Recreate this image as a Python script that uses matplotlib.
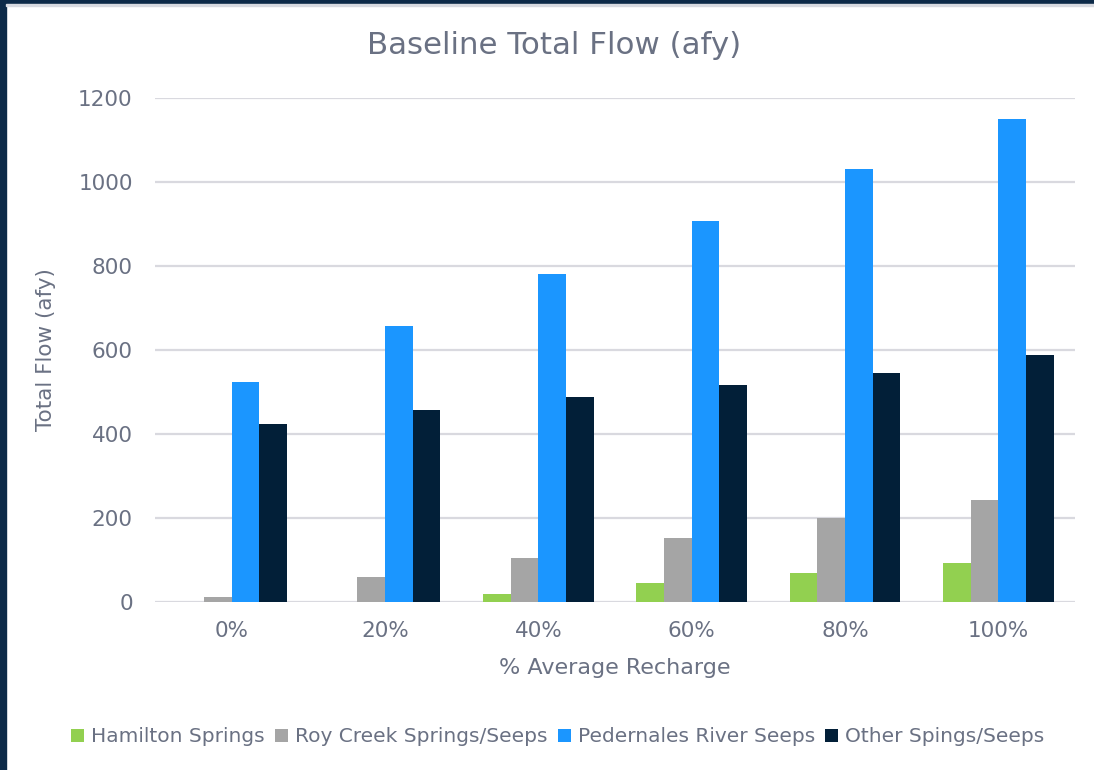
import matplotlib
matplotlib.use("Agg")
import matplotlib.pyplot as plt
from matplotlib.patches import Rectangle
import numpy as np

plt.rcParams["font.family"] = ["DejaVu Sans"]

categories = ["0%", "20%", "40%", "60%", "80%", "100%"]
series_names = ["Hamilton Springs", "Roy Creek Springs/Seeps",
                "Pedernales River Seeps", "Other Spings/Seeps"]
hamilton = [0, 0, 20, 45, 69, 92]
roy_creek = [11, 59, 104, 152, 200, 243]
pedernales = [524, 657, 782, 907, 1030, 1149]
other = [423, 458, 488, 517, 546, 587]
yticks = [0, 200, 400, 600, 800, 1000, 1200]

colors = ["#92D050", "#A5A5A5", "#1B96FF", "#021F38"]
text_color = "#6A7183"
grid_color = "#D9D9DF"

W, H = 1094, 770
fig = plt.figure(figsize=(W / 100, H / 100), dpi=100)
fig.patch.set_facecolor("white")

# dark frame on the left and top edges
fig.patches.append(Rectangle((0, 0), 6 / W, 1, transform=fig.transFigure,
                             color="#0D2A48", zorder=0))
fig.patches.append(Rectangle((0, 1 - 4 / H), 1, 4 / H, transform=fig.transFigure,
                             color="#0D2A48", zorder=0))
fig.patches.append(Rectangle((6 / W, 1 - 6 / H), 1, 2 / H, transform=fig.transFigure,
                             color="#D8DAE0", zorder=0))

ax = fig.add_axes([155 / W, 1 - 602 / H, (1075 - 155) / W, (602 - 98) / H])

x = np.arange(len(categories))
width = 0.18
data = [hamilton, roy_creek, pedernales, other]
for i, (vals, name, col) in enumerate(zip(data, series_names, colors)):
    ax.bar(x + (i - 1.5) * width, vals, width, color=col, label=name,
           zorder=3, linewidth=0)

ax.set_xlim(-0.5, len(categories) - 0.5)
ax.set_ylim(0, 1200)
ax.set_yticks(yticks)
ax.set_xticks(x)
ax.set_xticklabels(categories)
ax.tick_params(axis="both", length=0, labelsize=15.5, colors=text_color)
ax.tick_params(axis="y", pad=16)
ax.tick_params(axis="x", pad=14)
ax.grid(axis="y", color=grid_color, linewidth=1.6, zorder=0)
for s in ax.spines.values():
    s.set_visible(False)

ax.set_xlabel("% Average Recharge", fontsize=16, color=text_color, labelpad=12)
ax.set_ylabel("Total Flow (afy)", fontsize=15.5, color=text_color)
ax.yaxis.set_label_coords((56 - 155) / 920, 0.5)

fig.text(554 / W, 1 - 45 / H, "Baseline Total Flow (afy)", ha="center", va="center",
         fontsize=22.2, color=text_color)

leg = fig.legend(loc="center", bbox_to_anchor=(558 / W, 1 - 737 / H), ncol=4,
                 frameon=False, fontsize=14.5, handlelength=0.65, handleheight=0.65,
                 handletextpad=0.35, columnspacing=0.5, labelcolor=text_color)

fig.savefig("out.png", dpi=100)
